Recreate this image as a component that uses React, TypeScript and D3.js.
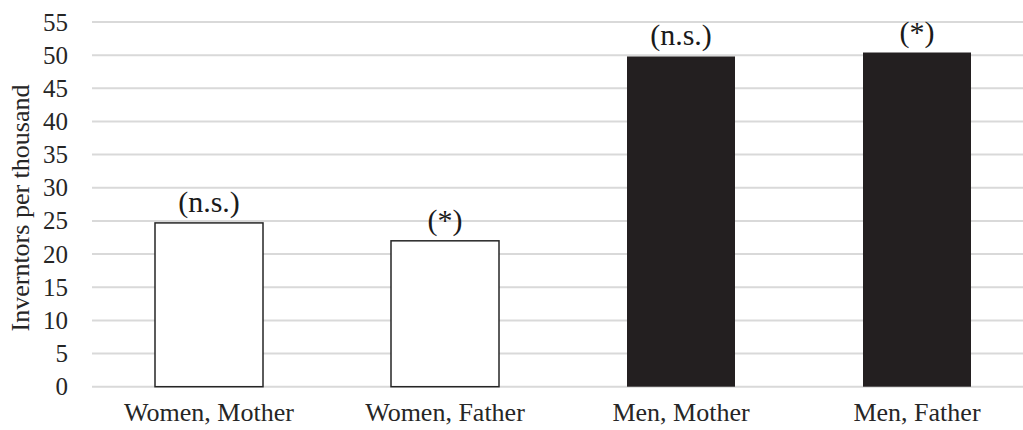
import React from "react";
import * as d3 from "d3";

const categories = ["Women, Mother", "Women, Father", "Men, Mother", "Men, Father"];
const values = [24.7, 22.0, 49.8, 50.4];
const significance = ["(n.s.)", "(*)", "(n.s.)", "(*)"];
const fills = ["#ffffff", "#ffffff", "#231f20", "#231f20"];
const yTicks = [0, 5, 10, 15, 20, 25, 30, 35, 40, 45, 50, 55];

const W = 1023;
const H = 430;
const FONT = '"Liberation Serif", "Times New Roman", Times, serif';

export default function App() {
  const x = d3.scaleBand<string>().domain(categories).range([91, 1035]).paddingInner(0).paddingOuter(0);
  const y = d3.scaleLinear().domain([0, 55]).range([386.7, 22]);
  const barW = 108;

  return (
    <svg
      width={W}
      height={H}
      style={{ position: "absolute", left: 0, top: 0, background: "#fff", fontFamily: FONT }}
    >
      {yTicks.map((t) => (
        <g key={t}>
          <line x1={92} x2={W} y1={y(t)} y2={y(t)} stroke="#d9d9d9" strokeWidth={2} />
          <text x={68} y={y(t)} dy="0.34em" textAnchor="end" fontSize={25} fill="#262626">
            {t}
          </text>
        </g>
      ))}
      {categories.map((c, i) => {
        const cx = (x(c) as number) + x.bandwidth() / 2;
        const top = y(values[i]);
        const white = fills[i] === "#ffffff";
        return (
          <g key={c}>
            <rect
              x={cx - barW / 2}
              y={top}
              width={barW}
              height={y(0) - top}
              fill={fills[i]}
              stroke={white ? "#262626" : "none"}
              strokeWidth={white ? 1.5 : 0}
            />
            <text x={cx} y={top - 11} textAnchor="middle" fontSize={30} fill="#1a1a1a">
              {significance[i]}
            </text>
            <text x={cx} y={421} textAnchor="middle" fontSize={26} fill="#262626">
              {c}
            </text>
          </g>
        );
      })}
      <text
        transform="translate(29, 208) rotate(-90)"
        textAnchor="middle"
        fontSize={26}
        fill="#262626"
      >
        Inverntors per thousand
      </text>
    </svg>
  );
}
